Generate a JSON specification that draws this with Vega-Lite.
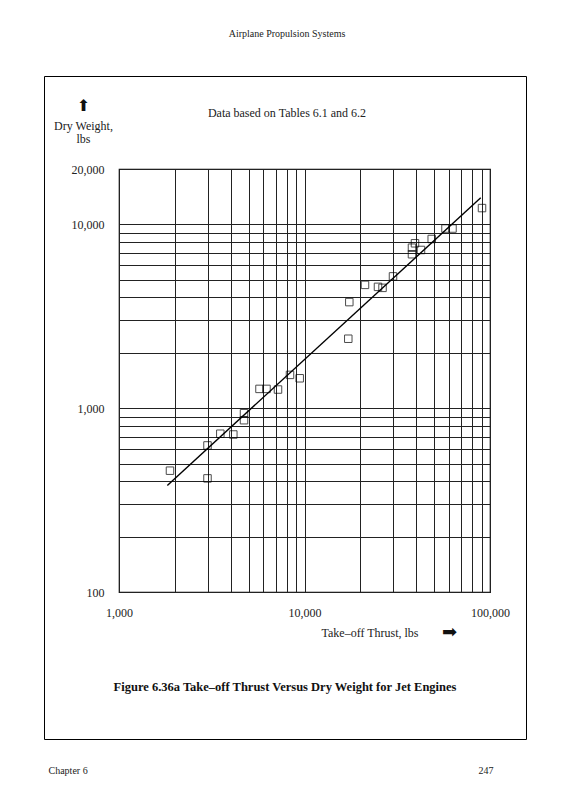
{
  "$schema": "https://vega.github.io/schema/vega-lite/v6.json",
  "width": 371,
  "height": 423,
  "autosize": {"type": "none"},
  "padding": {"left": 119, "top": 169, "right": 74, "bottom": 208},
  "background": "white",
  "title": {
    "text": "Airplane Propulsion Systems",
    "subtitle": "Data based on Tables 6.1 and 6.2",
    "anchor": "middle",
    "frame": "group",
    "dx": -17.5,
    "offset": -43,
    "font": "Liberation Serif",
    "fontSize": 10,
    "fontWeight": "normal",
    "color": "#222",
    "subtitleFont": "Liberation Serif",
    "subtitleFontSize": 12,
    "subtitleColor": "#222",
    "subtitlePadding": 69
  },
  "config": {
    "view": {"stroke": "black", "strokeWidth": 1.2},
    "axis": {"labelFont": "Liberation Serif", "titleFont": "Liberation Serif", "labelColor": "#222", "titleColor": "#222", "titleFontWeight": "normal"}
  },
  "datasets": {
    "pts": [
      {"thrust": 1883, "weight": 457},
      {"thrust": 3000, "weight": 415},
      {"thrust": 3000, "weight": 627},
      {"thrust": 3517, "weight": 726},
      {"thrust": 4133, "weight": 719},
      {"thrust": 4720, "weight": 939},
      {"thrust": 4720, "weight": 860},
      {"thrust": 5720, "weight": 1273},
      {"thrust": 6240, "weight": 1273},
      {"thrust": 7197, "weight": 1263},
      {"thrust": 8353, "weight": 1517},
      {"thrust": 9422, "weight": 1454},
      {"thrust": 17220, "weight": 2386},
      {"thrust": 17440, "weight": 3776},
      {"thrust": 21190, "weight": 4685},
      {"thrust": 24900, "weight": 4570},
      {"thrust": 26340, "weight": 4513},
      {"thrust": 30000, "weight": 5210},
      {"thrust": 37970, "weight": 6876},
      {"thrust": 37970, "weight": 7465},
      {"thrust": 39410, "weight": 7886},
      {"thrust": 42460, "weight": 7254},
      {"thrust": 48510, "weight": 8324},
      {"thrust": 57560, "weight": 9489},
      {"thrust": 62780, "weight": 9489},
      {"thrust": 90570, "weight": 12260}
    ],
    "fit": [
      {"thrust": 1822, "weight": 380},
      {"thrust": 89130, "weight": 13940}
    ]
  },
  "layer": [
    {
      "data": {"name": "pts"},
      "mark": {"type": "point", "shape": "square", "filled": false, "stroke": "black", "strokeWidth": 1, "size": 56},
      "encoding": {
        "x": {
          "field": "thrust", "type": "quantitative",
          "scale": {"type": "log", "domain": [1000, 100000], "nice": false},
          "axis": {
            "orient": "bottom",
            "values": [1000, 2000, 3000, 4000, 5000, 6000, 7000, 8000, 9000, 10000, 20000, 30000, 40000, 50000, 60000, 70000, 80000, 90000, 100000],
            "format": ",d",
            "labelExpr": "indexof([1000, 10000, 100000], datum.value) >= 0 ? datum.label : ''",
            "grid": true, "gridColor": "#222", "gridWidth": 1,
            "ticks": false, "domain": false,
            "labelPadding": 15, "labelFontSize": 12, "labelFlush": false, "labelOverlap": false,
            "title": "Take–off Thrust, lbs",
            "titleX": 202, "titleY": 40, "titleAlign": "left", "titleBaseline": "middle", "titleFontSize": 12
          }
        },
        "y": {
          "field": "weight", "type": "quantitative",
          "scale": {"type": "log", "domain": [100, 20000], "nice": false},
          "axis": {
            "orient": "left",
            "values": [100, 200, 300, 400, 500, 600, 700, 800, 900, 1000, 2000, 3000, 4000, 5000, 6000, 7000, 8000, 9000, 10000, 20000],
            "format": ",d",
            "labelExpr": "indexof([100, 1000, 10000, 20000], datum.value) >= 0 ? datum.label : ''",
            "grid": true, "gridColor": "#222", "gridWidth": 1,
            "ticks": false, "domain": false,
            "labelPadding": 15, "labelFontSize": 12, "labelFlush": false, "labelOverlap": false,
            "title": ["Dry Weight,", "lbs"],
            "titleAngle": 0, "titleX": -36, "titleY": -49, "titleAlign": "center", "titleBaseline": "top",
            "titleFontSize": 12, "titleLineHeight": 13.5
          }
        }
      }
    },
    {
      "data": {"name": "fit"},
      "mark": {"type": "line", "color": "black", "strokeWidth": 1.4},
      "encoding": {
        "x": {
          "field": "thrust", "type": "quantitative",
          "axis": {"orient": "top", "labels": false, "ticks": false, "domain": false, "grid": false,
            "title": "247", "titleX": 359, "titleY": 601, "titleAlign": "left", "titleBaseline": "middle", "titleFontSize": 10}
        },
        "y": {
          "field": "weight", "type": "quantitative",
          "axis": {"orient": "right", "labels": false, "ticks": false, "domain": false, "grid": false,
            "title": "Chapter 6", "titleAngle": 0, "titleX": -442, "titleY": 601, "titleAlign": "left", "titleBaseline": "middle", "titleFontSize": 10}
        }
      }
    },
    {
      "data": {"name": "fit"},
      "mark": {"type": "point", "opacity": 0},
      "encoding": {
        "x": {
          "field": "thrust", "type": "quantitative",
          "axis": {"orient": "bottom", "labels": false, "ticks": false, "domain": false, "grid": false,
            "title": "➡", "titleFont": "DejaVu Sans", "titleFontSize": 18, "titleX": 330, "titleY": 40, "titleAlign": "center", "titleBaseline": "middle", "titleColor": "#111"}
        },
        "y": {
          "field": "weight", "type": "quantitative",
          "axis": {"orient": "left", "labels": false, "ticks": false, "domain": false, "grid": false,
            "title": "⬆", "titleFont": "DejaVu Sans", "titleFontSize": 16, "titleAngle": 0, "titleX": -36, "titleY": -63.5, "titleAlign": "center", "titleBaseline": "middle", "titleColor": "#111"}
        },
        "color": {
          "field": "weight", "type": "quantitative",
          "scale": {"range": ["black", "black"]},
          "legend": {
            "type": "gradient", "direction": "vertical", "orient": "none", "legendX": -75, "legendY": -93,
            "gradientLength": 554.5, "gradientThickness": 392, "gradientOpacity": 0, "gradientStrokeWidth": 0,
            "labelExpr": "''", "labelOffset": 0,
            "title": "Figure 6.36a Take–off Thrust Versus Dry Weight for Jet Engines",
            "titleOrient": "bottom", "titleAnchor": "middle", "titleFont": "Liberation Serif", "titleFontWeight": "bold",
            "titleFontSize": 12.5, "titleColor": "#111", "titlePadding": 5, "titleLimit": 800,
            "padding": 45, "strokeColor": "black"
          }
        }
      }
    }
  ],
  "resolve": {"axis": {"x": "independent", "y": "independent"}}
}
